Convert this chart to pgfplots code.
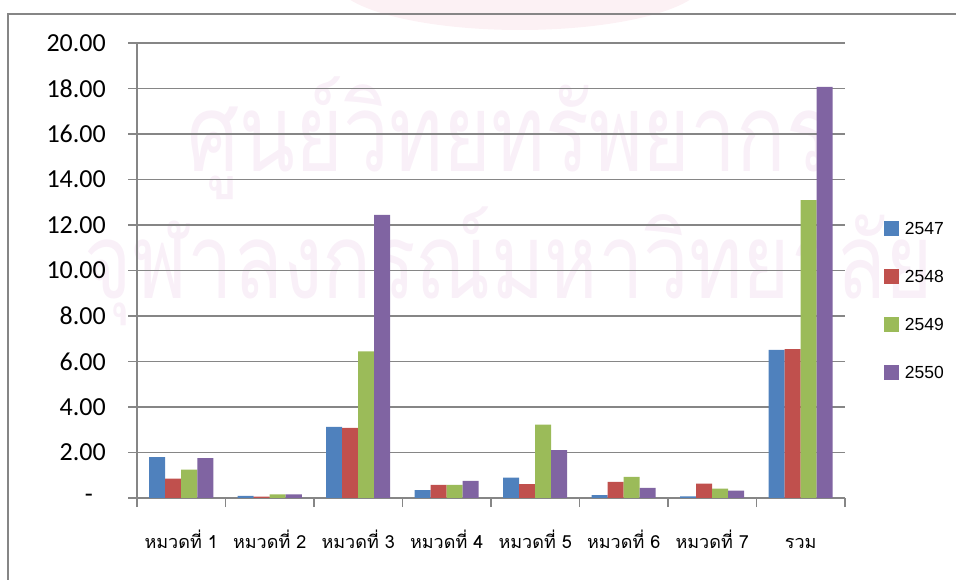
\documentclass[border=0pt]{standalone}
\usepackage{fontspec}
\setmainfont{Carlito}
\newfontfamily\thaifont[Script=Thai]{Loma}
\newfontfamily\legfont{Liberation Sans}
\usepackage{graphicx}
\usepackage{pgfplots}
\pgfplotsset{compat=1.18}
\definecolor{c1}{HTML}{4F81BD}
\definecolor{c2}{HTML}{C0504D}
\definecolor{c3}{HTML}{9BBB59}
\definecolor{c4}{HTML}{8064A2}
\definecolor{gridc}{HTML}{868686}
\definecolor{wm}{HTML}{F9F0F8}
\definecolor{wmred}{HTML}{FCF1F4}

\pgfplotstableread{
x  a     b     c     d
0  1.80  0.85  1.25  1.75
1  0.09  0.06  0.16  0.16
2  3.13  3.08  6.45  12.45
3  0.35  0.58  0.58  0.75
4  0.90  0.61  3.23  2.10
5  0.13  0.71  0.93  0.45
6  0.07  0.63  0.41  0.32
7  6.51  6.54  13.09 18.07
}\datatable

\pgfplotsset{myleg/.style={legend image code/.code={\fill[##1] (0bp,-7bp) rectangle (15bp,8bp);}}}

\begin{document}
\begin{tikzpicture}
\path[use as bounding box] (0bp,0bp) rectangle (956bp,580bp);
% faint watermark
\begin{scope}
\clip (0bp,0bp) rectangle (956bp,580bp);
\fill[wmred] (520bp,600bp) ellipse (185bp and 50bp);
\end{scope}
\node[wm, inner sep=0pt] at (509bp,441.5bp) {\resizebox*{642bp}{123bp}{\thaifont ศูนย์วิทยทรัพยากร}};
\node[wm, inner sep=0pt] at (509bp,313.5bp) {\resizebox*{848bp}{119bp}{\thaifont จุฬาลงกรณ์มหาวิทยาลัย}};
% outer frame
\draw[gridc, line width=1.5bp] (8bp,0bp) -- (8bp,566bp) -- (956bp,566bp);
\begin{axis}[
  at={(137bp,82bp)}, anchor=south west,
  scale only axis, width=708bp, height=455bp,
  xmin=-0.5, xmax=7.5, ymin=0, ymax=20,
  ybar=0pt, bar width=16bp,
  axis lines*=left,
  axis line style={gridc, line width=1.5bp},
  tick align=outside,
  tick style={gridc, line width=1.5bp},
  major tick length=9bp,
  xtick={-0.5,0.5,...,7.5},
  xticklabels={},
  extra x ticks={0,1,2,3,4,5,6,7},
  extra x tick labels={หมวดที่ 1,หมวดที่ 2,หมวดที่ 3,หมวดที่ 4,หมวดที่ 5,หมวดที่ 6,หมวดที่ 7,รวม},
  extra x tick style={major tick length=0pt},
  xticklabel style={font=\thaifont\fontsize{18bp}{20bp}\selectfont, text height=14bp, text depth=4bp, inner sep=0pt, anchor=north, yshift=-36bp},
  ytick={0,2,...,20},
  yticklabels={{-\rule{13bp}{0pt}},2.00,4.00,6.00,8.00,10.00,12.00,14.00,16.00,18.00,20.00},
  yticklabel style={font=\fontsize{26bp}{30bp}\selectfont, inner sep=0pt, anchor=east, xshift=-22bp},
  ymajorgrids,
  grid style={gridc, line width=1.5bp},
  legend cell align=left,
  legend style={draw=none, fill=none, at={(1.055,0.608)}, anchor=north west,
    inner sep=0pt, outer sep=0pt, row sep=33bp,
    nodes={inner sep=0pt},
    font=\legfont\fontsize{17.5bp}{20bp}\selectfont,
    /tikz/every odd column/.append style={column sep=6bp}},
]
\addplot[fill=c1, draw=none, myleg] table[x=x, y=a] {\datatable};
\addplot[fill=c2, draw=none, myleg] table[x=x, y=b] {\datatable};
\addplot[fill=c3, draw=none, myleg] table[x=x, y=c] {\datatable};
\addplot[fill=c4, draw=none, myleg] table[x=x, y=d] {\datatable};
\legend{2547,2548,2549,2550}
\end{axis}
\end{tikzpicture}
\end{document}
